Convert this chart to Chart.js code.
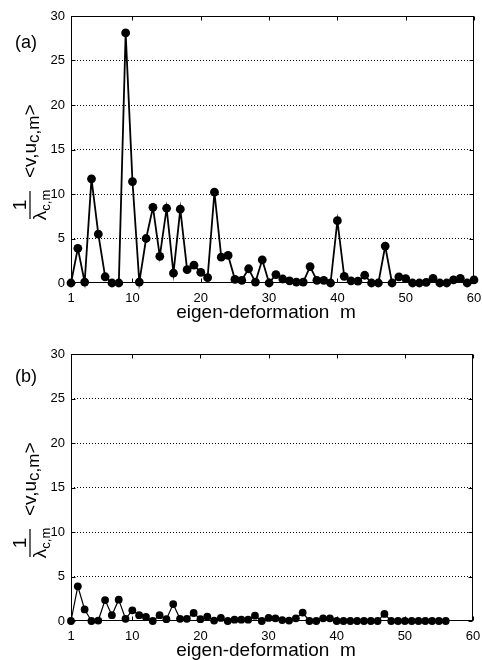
<!DOCTYPE html>
<html>
<head>
<meta charset="utf-8">
<script src="https://cdn.jsdelivr.net/npm/chart.js@4.4.1/dist/chart.umd.min.js"></script>
<style>
    html, body { margin: 0; padding: 0; background: #fff; }
    #wrap { position: relative; width: 482px; height: 660px; }
    canvas { position: absolute; left: 0; }
</style>
</head>
<body>
<div id="wrap">
    <canvas id="chartA" width="482" height="330" style="top:0"></canvas>
    <canvas id="chartB" width="482" height="330" style="top:330px"></canvas>
</div>
<script>
'use strict'

// eigen-deformation index m
const mA = Array.from({ length: 60 }, (_, i) => i + 1);
const mB = Array.from({ length: 56 }, (_, i) => i + 1);

// (1/lambda_c,m) <v, u_c,m>, panel (a)
const projA = [
    0, 3.9, 0.1, 11.7, 5.5, 0.7, 0, 0, 28.1, 11.4,
    0.1, 5.0, 8.5, 3.0, 8.4, 1.1, 8.3, 1.5, 2.0, 1.2,
    0.6, 10.2, 2.9, 3.1, 0.4, 0.3, 1.6, 0.1, 2.6, 0,
    0.95, 0.45, 0.25, 0.1, 0.1, 1.85, 0.3, 0.3, 0, 7.0,
    0.75, 0.25, 0.2, 0.87, 0, 0, 4.15, 0, 0.68, 0.5,
    0, 0, 0.06, 0.53, 0, 0, 0.34, 0.53, 0, 0.34
];

// panel (b)
const projB = [
    0, 3.9, 1.3, 0, 0.05, 2.35, 0.65, 2.4, 0.25, 1.2,
    0.65, 0.45, 0, 0.65, 0.2, 1.9, 0.25, 0.25, 0.9, 0.2,
    0.5, 0.05, 0.35, 0, 0.15, 0.15, 0.15, 0.6, 0, 0.35,
    0.3, 0.1, 0.05, 0.3, 0.95, 0, 0, 0.3, 0.3, 0,
    0, 0, 0, 0, 0, 0, 0.8, 0, 0, 0,
    0, 0, 0, 0, 0, 0
];

const xTicks = [1, 10, 20, 30, 40, 50, 60];
const yTicks = [0, 5, 10, 15, 20, 25, 30];

const FONT = '"Liberation Sans", Arial, sans-serif';

function drawYLabel(ctx, cx, cy) {
    ctx.save();
    ctx.translate(cx, cy);
    ctx.rotate(-Math.PI / 2);
    // +x is up on screen, +y is right on screen
    ctx.fillStyle = '#000';
    ctx.textBaseline = 'alphabetic';
    ctx.textAlign = 'left';

    // fraction 1 / lambda_c,m
    ctx.fillRect(-14, -0.6, 28, 1.2);
    ctx.font = '19px ' + FONT;
    let w = ctx.measureText('1').width;
    ctx.fillText('1', -w / 2, -4);
    const lw = ctx.measureText('\u03bb').width;
    ctx.font = '13px ' + FONT;
    const sw = ctx.measureText('c,m').width;
    let x = -(lw + sw) / 2;
    ctx.font = '19px ' + FONT;
    ctx.fillText('\u03bb', x, 16);
    ctx.font = '13px ' + FONT;
    ctx.fillText('c,m', x + lw, 20);

    // <v, u_c,m>
    x = 27;
    ctx.font = '19px ' + FONT;
    ctx.fillText('<v,u', x, 6);
    x += ctx.measureText('<v,u').width;
    ctx.font = '17px ' + FONT;
    ctx.fillText('c,m', x, 9);
    x += ctx.measureText('c,m').width;
    ctx.font = '19px ' + FONT;
    ctx.fillText('>', x, 6);
    ctx.restore();
}

const framePlugin = {
    id: 'frame',
    beforeDatasetsDraw(chart) {
        const { ctx, chartArea: a, scales: { x, y } } = chart;
        const l = Math.round(a.left) + 0.5, r = Math.round(a.right) - 0.5;
        const t = Math.round(a.top) + 0.5, b = Math.round(a.bottom) - 0.5;
        ctx.save();
        ctx.strokeStyle = '#000';
        ctx.lineWidth = 1;
        ctx.setLineDash([]);
        ctx.strokeRect(l, t, r - l, b - t);
        ctx.beginPath();
        xTicks.forEach(v => {
            const px = Math.round(x.getPixelForValue(v)) + 0.5;
            ctx.moveTo(px, b); ctx.lineTo(px, b - 4);
            ctx.moveTo(px, t); ctx.lineTo(px, t + 4);
        });
        yTicks.forEach(v => {
            const py = Math.round(y.getPixelForValue(v)) + 0.5;
            ctx.moveTo(l, py); ctx.lineTo(l + 4, py);
            ctx.moveTo(r, py); ctx.lineTo(r - 4, py);
        });
        ctx.stroke();
        ctx.restore();
    },
    afterDraw(chart, args, opts) {
        const { ctx, chartArea: a } = chart;
        ctx.save();
        ctx.fillStyle = '#000';
        ctx.textAlign = 'center';
        ctx.textBaseline = 'middle';
        ctx.font = '18px ' + FONT;
        ctx.fillText(opts.panel, 26, a.top + opts.panelDy);

        ctx.textBaseline = 'alphabetic';
        ctx.font = '19px ' + FONT;
        ctx.fillText('eigen-deformation  m', 266, a.bottom + 35);
        ctx.restore();

        drawYLabel(ctx, 30, a.top + 189);
    }
};

function makeChart(id, m, values, opts) {
    return new Chart(document.getElementById(id), {
        type: 'line',
        data: {
            datasets: [
                {
                    data: m.map((v, i) => ({ x: v, y: values[i] })),
                    borderColor: '#000',
                    backgroundColor: '#000',
                    borderWidth: opts.lineWidth,
                    pointRadius: opts.pointRadius,
                    pointBackgroundColor: '#000',
                    pointBorderColor: '#000',
                    pointBorderWidth: 0,
                    tension: 0,
                    clip: false
                }
            ]
        },
        options: {
            responsive: false,
            animation: false,
            layout: {
                padding: { top: opts.top, right: opts.right, bottom: 0, left: 0 }
            },
            scales: {
                x: {
                    type: 'linear',
                    min: 1,
                    max: 60,
                    afterBuildTicks: s => { s.ticks = xTicks.map(v => ({ value: v })); },
                    afterFit: s => {
                        s.height = opts.xHeight;
                        s.paddingLeft = 0;
                        s.paddingRight = 0;
                    },
                    ticks: {
                        color: '#000',
                        font: { family: FONT, size: 13 },
                        padding: 8,
                        maxRotation: 0,
                        autoSkip: false
                    },
                    grid: { display: false, drawTicks: false },
                    border: { display: false }
                },
                y: {
                    type: 'linear',
                    min: 0,
                    max: 30,
                    afterBuildTicks: s => { s.ticks = yTicks.map(v => ({ value: v })); },
                    afterFit: s => {
                        s.width = 71;
                        s.paddingTop = 0;
                        s.paddingBottom = 0;
                    },
                    ticks: {
                        color: '#000',
                        font: { family: FONT, size: 13 },
                        padding: 6
                    },
                    grid: {
                        drawTicks: false,
                        lineWidth: 1,
                        color: c => (c.tick && (c.tick.value === 0 || c.tick.value === 30)) ? 'rgba(0,0,0,0)' : '#000'
                    },
                    border: { display: false, dash: [1, 2] }
                }
            },
            plugins: {
                legend: { display: false },
                tooltip: { enabled: false },
                frame: { panel: opts.panel, panelDy: opts.panelDy }
            }
        },
        plugins: [framePlugin]
    });
}

makeChart('chartA', mA, projA, { top: 16, right: 8, xHeight: 47, lineWidth: 1.8, pointRadius: 4.4, panel: '(a)', panelDy: 27 });
makeChart('chartB', mB, projB, { top: 24, right: 9, xHeight: 39, lineWidth: 1.2, pointRadius: 3.9, panel: '(b)', panelDy: 23 });
</script>
</body>
</html>
